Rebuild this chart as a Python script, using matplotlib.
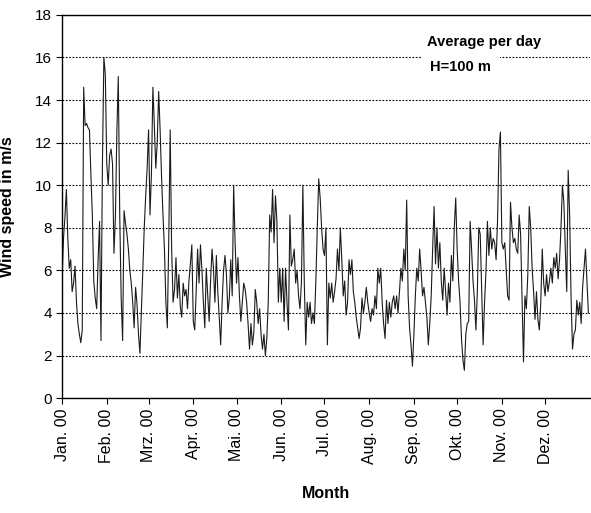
import numpy as np
import matplotlib
matplotlib.use('Agg')
import matplotlib.pyplot as plt

# daily mean wind speed at H=100 m, year 2000
jan = [5.5, 7.5, 8.5, 9.8, 7.5, 6.1, 6.5, 5.0, 5.4, 6.2, 4.5, 3.5, 3.0, 2.6, 3.2,
       14.6, 12.8, 12.9, 12.7, 12.6, 10.5, 8.6, 5.5, 4.7, 4.2, 6.5, 8.3, 2.7, 11.0, 16.0, 15.2]
feb = [11.0, 10.0, 11.4, 11.7, 11.0, 6.8, 8.5, 12.5, 15.1, 8.6, 4.7, 2.7, 8.8, 8.2, 7.7,
       7.0, 6.0, 5.4, 4.5, 3.3, 5.2, 4.4, 3.0, 2.1, 4.0, 6.0, 8.0, 9.5, 10.8]
mar = [12.6, 8.6, 10.6, 14.6, 12.8, 10.8, 12.0, 14.4, 12.6, 10.4, 8.6, 7.0, 4.5, 3.3, 7.5,
       12.6, 7.0, 4.5, 5.1, 6.6, 4.7, 5.8, 4.3, 3.8, 5.4, 4.8, 5.1, 4.2, 5.5, 6.3, 7.2]
apr = [3.6, 3.2, 5.0, 7.0, 5.4, 7.2, 6.0, 4.5, 3.3, 6.1, 4.8, 3.6, 5.5, 7.0, 6.1,
       4.5, 6.7, 5.0, 3.8, 2.5, 4.5, 6.0, 6.7, 5.8, 4.0, 4.7, 6.5, 4.8, 10.0, 7.3]
may = [5.4, 6.6, 4.8, 3.6, 4.5, 5.4, 5.1, 4.5, 3.5, 2.3, 3.5, 2.5, 3.1, 5.1, 4.5,
       3.5, 4.2, 3.0, 2.3, 3.0, 2.0, 2.8, 4.5, 8.6, 7.8, 9.8, 7.3, 9.5, 8.3, 4.5, 6.1]
jun = [4.5, 6.1, 3.6, 6.1, 4.5, 3.2, 8.6, 6.2, 6.5, 7.0, 5.4, 6.0, 4.8, 4.2, 5.4,
       10.0, 5.4, 2.5, 4.5, 3.8, 4.5, 3.5, 4.0, 3.5, 5.5, 8.0, 10.3, 9.4, 8.0, 7.0]
jul = [6.7, 8.0, 2.5, 5.4, 4.7, 5.4, 4.5, 5.0, 5.6, 7.0, 6.0, 8.0, 6.5, 4.8, 5.5,
       3.9, 4.5, 6.5, 5.8, 6.5, 5.0, 4.5, 3.8, 3.3, 2.8, 3.3, 4.7, 4.0, 4.5, 5.2, 4.5]
aug = [4.0, 3.6, 4.2, 3.9, 4.8, 4.2, 6.1, 5.4, 6.1, 4.5, 3.5, 2.8, 4.6, 3.5, 4.5,
       3.8, 4.5, 4.8, 4.2, 4.8, 4.0, 5.0, 6.1, 5.5, 7.0, 6.0, 9.3, 4.8, 3.3, 2.5, 1.5]
sep = [3.0, 4.8, 6.1, 5.5, 7.0, 6.0, 4.8, 5.2, 4.5, 3.8, 2.5, 3.5, 4.8, 7.0, 9.0,
       6.3, 8.0, 6.1, 7.3, 5.5, 4.6, 6.1, 5.0, 3.9, 5.4, 4.5, 6.7, 5.5, 8.0, 9.4]
okt = [7.0, 5.5, 4.5, 2.8, 1.8, 1.3, 3.0, 3.5, 3.6, 8.3, 7.0, 5.5, 4.6, 3.2, 5.0,
       8.0, 7.7, 5.0, 2.5, 4.5, 6.0, 8.3, 6.7, 8.0, 7.0, 7.5, 7.3, 6.5, 8.3, 11.7, 12.5]
nov = [7.3, 7.0, 7.3, 6.0, 4.8, 4.6, 9.2, 8.0, 7.3, 7.5, 7.0, 6.8, 8.6, 7.7, 4.6,
       1.7, 4.8, 4.2, 5.8, 9.0, 8.0, 6.1, 5.0, 3.7, 5.0, 3.7, 3.2, 4.5, 7.0, 5.4]
dez = [4.8, 5.8, 5.0, 5.5, 6.1, 5.4, 6.6, 6.1, 6.8, 5.6, 6.5, 8.0, 10.0, 9.2, 7.0,
       5.0, 10.7, 8.6, 4.7, 2.3, 3.0, 3.2, 4.6, 3.9, 4.5, 3.5, 5.2, 6.1, 7.0, 5.5, 4.0]

months = [jan, feb, mar, apr, may, jun, jul, aug, sep, okt, nov, dez]
month_labels = ['Jan. 00', 'Feb. 00', 'Mrz. 00', 'Apr. 00', 'Mai. 00', 'Jun. 00',
                'Jul. 00', 'Aug. 00', 'Sep. 00', 'Okt. 00', 'Nov. 00', 'Dez. 00']

speed = np.concatenate(months)
days = np.arange(len(speed))
month_starts = np.cumsum([0] + [len(m) for m in months[:-1]])

plt.rcParams['font.family'] = ['Liberation Sans', 'DejaVu Sans']

fig = plt.figure(figsize=(5.91, 5.13), dpi=100)
ax = fig.add_axes([0.105, 0.224, 0.893, 0.747])

ax.plot(days, speed, color='#1a1a1a', lw=0.8)

ax.set_xlim(0, len(speed))
ax.set_ylim(0, 18)
ax.set_yticks(np.arange(0, 19, 2))
ax.set_xticks(month_starts)
ax.set_xticklabels(month_labels, rotation=90, fontsize=11.5)
ax.tick_params(axis='y', labelsize=11, length=4, direction='out')
ax.tick_params(axis='x', length=4, direction='out')

ax.yaxis.grid(True, linestyle=(0, (1.5, 1.5)), color='black', lw=0.8)
ax.set_axisbelow(True)
ax.spines['right'].set_visible(False)
for s in ['top', 'left', 'bottom']:
    ax.spines[s].set_linewidth(1.0)

narrow = ['Liberation Sans Narrow', 'Liberation Sans', 'DejaVu Sans']
ax.set_ylabel('Wind speed in m/s', fontsize=11.5, fontweight='bold', labelpad=14)
ax.set_xlabel('Month', fontsize=11.5, fontweight='bold', family=narrow, labelpad=16)

# legend-like annotation; only the second line hides the 16 m/s gridline
ax.text(0.692, 0.948, 'Average per day', transform=ax.transAxes,
        fontsize=10.5, fontweight='bold', family=narrow, va='top', ha='left')
ax.text(0.698, 0.882, 'H=100 m', transform=ax.transAxes,
        fontsize=10.5, fontweight='bold', family=narrow, va='top', ha='left',
        bbox=dict(facecolor='white', edgecolor='none', pad=6))

fig.savefig('out.png', dpi=100)
